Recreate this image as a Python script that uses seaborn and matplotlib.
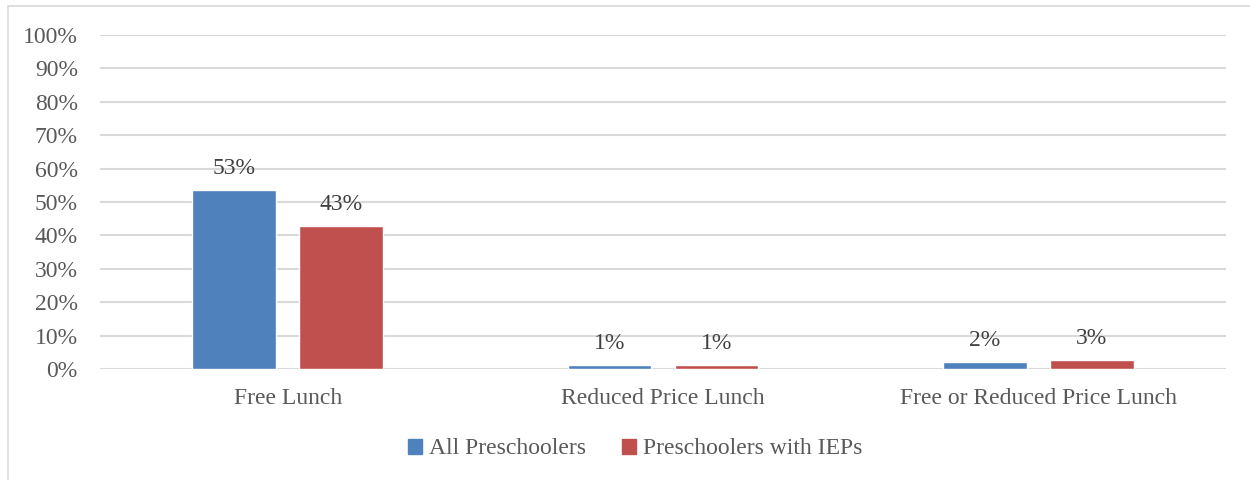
import matplotlib
matplotlib.use("Agg")
import matplotlib.pyplot as plt
import seaborn as sns
import pandas as pd
from matplotlib.patches import Rectangle
from matplotlib.ticker import FuncFormatter

categories = ["Free Lunch", "Reduced Price Lunch", "Free or Reduced Price Lunch"]
series_names = ["All Preschoolers", "Preschoolers with IEPs"]
all_preschoolers = [53.6, 1.3, 2.0]
with_ieps = [42.9, 1.2, 2.8]
label_all = ["53%", "1%", "2%"]
label_iep = ["43%", "1%", "3%"]
colors = ["#4F81BD", "#C0504D"]

df = pd.DataFrame({
    "category": categories * 2,
    "series": [series_names[0]] * 3 + [series_names[1]] * 3,
    "value": all_preschoolers + with_ieps,
})

sns.set_theme(style="white")
plt.rcParams["font.family"] = ["Liberation Serif", "DejaVu Serif"]

fig = plt.figure(figsize=(12.5, 4.8), dpi=100)
ax = fig.add_axes([100 / 1250, 1 - 369 / 480, 1126 / 1250, 334 / 480])

sns.barplot(data=df, x="category", y="value", hue="series", palette=colors,
            order=categories, hue_order=series_names, width=0.57, gap=0.22,
            ax=ax, legend=False, saturation=1)

ax.set_ylim(0, 100)
ax.set_xlim(-0.5, 2.5)
ax.set_yticks(range(0, 101, 10))
ax.yaxis.set_major_formatter(FuncFormatter(lambda v, p: f"{int(v)}%"))
ax.grid(axis="y", color="#D9D9D9", linewidth=1.5)
ax.set_axisbelow(True)
for s in ax.spines.values():
    s.set_visible(False)
ax.tick_params(axis="both", length=0, labelsize=17, labelcolor="#595959")
ax.tick_params(axis="y", pad=16)
ax.tick_params(axis="x", pad=14)
ax.set_xlabel("")
ax.set_ylabel("")

labels = label_all + label_iep
for patch, lab in zip(ax.patches, labels):
    x = patch.get_x() + patch.get_width() / 2
    y = patch.get_height()
    ax.annotate(lab, (x, y), xytext=(0, 8), textcoords="offset points",
                ha="center", va="bottom", fontsize=17, color="#404040")

handles = [Rectangle((0, 0), 1, 1, color=c) for c in colors]
fig.legend(handles, series_names, loc="center", bbox_to_anchor=(0.508, 1 - 449 / 480),
           ncol=2, frameon=False, fontsize=17, labelcolor="#595959",
           handlelength=0.6, handleheight=0.6, handletextpad=0.3, columnspacing=1.5)

fig.patches.append(Rectangle((7.5 / 1250, -0.01), 1245 / 1250, 1 - 5.5 / 480 + 0.01,
                             transform=fig.transFigure, fill=False,
                             edgecolor="#D9D9D9", linewidth=1.2))

fig.savefig("out.png", dpi=100, facecolor="white")
